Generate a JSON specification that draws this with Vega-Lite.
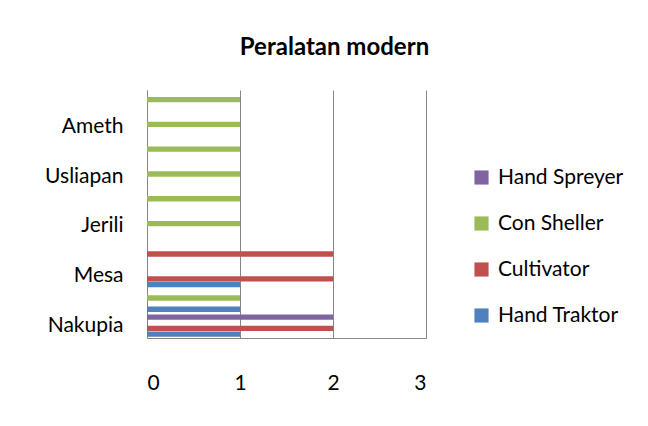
{
  "$schema": "https://vega.github.io/schema/vega-lite/v6.json",
  "autosize": "none",
  "width": 279,
  "height": 248,
  "padding": {"left": 147, "top": 90, "right": 222, "bottom": 88},
  "background": "white",
  "title": {
    "text": "Peralatan modern",
    "font": "Lato",
    "fontSize": 24,
    "fontWeight": "bold",
    "color": "#000000",
    "anchor": "middle",
    "frame": "group",
    "dx": 48,
    "offset": 30
  },
  "data": {
    "values": [
      {"desa": "Nakupia", "alat": "Hand Traktor", "jumlah": 1},
      {"desa": "Nakupia", "alat": "Cultivator", "jumlah": 2},
      {"desa": "Nakupia", "alat": "Hand Spreyer", "jumlah": 2},
      {"desa": "Desa 2", "alat": "Hand Traktor", "jumlah": 1},
      {"desa": "Desa 2", "alat": "Con Sheller", "jumlah": 1},
      {"desa": "Mesa", "alat": "Hand Traktor", "jumlah": 1},
      {"desa": "Mesa", "alat": "Cultivator", "jumlah": 2},
      {"desa": "Desa 4", "alat": "Cultivator", "jumlah": 2},
      {"desa": "Jerili", "alat": "Con Sheller", "jumlah": 1},
      {"desa": "Desa 6", "alat": "Con Sheller", "jumlah": 1},
      {"desa": "Usliapan", "alat": "Con Sheller", "jumlah": 1},
      {"desa": "Desa 8", "alat": "Con Sheller", "jumlah": 1},
      {"desa": "Ameth", "alat": "Con Sheller", "jumlah": 1},
      {"desa": "Desa 10", "alat": "Con Sheller", "jumlah": 1}
    ]
  },
  "mark": {"type": "bar"},
  "encoding": {
    "y": {
      "field": "desa",
      "type": "nominal",
      "scale": {
        "domain": ["Desa 10", "Ameth", "Desa 8", "Usliapan", "Desa 6", "Jerili", "Desa 4", "Mesa", "Desa 2", "Nakupia"],
        "paddingInner": 0.1,
        "paddingOuter": 0.05
      },
      "axis": {
        "title": null,
        "values": ["Nakupia", "Mesa", "Jerili", "Usliapan", "Ameth"],
        "ticks": false,
        "grid": false,
        "domainColor": "#868686",
        "domainWidth": 1,
        "labelFont": "Lato",
        "labelFontSize": 21,
        "labelColor": "#000000",
        "labelPadding": 24
      }
    },
    "yOffset": {
      "field": "alat",
      "type": "nominal",
      "scale": {"domain": ["Hand Spreyer", "Con Sheller", "Cultivator", "Hand Traktor"], "paddingInner": 0.05}
    },
    "x": {
      "field": "jumlah",
      "type": "quantitative",
      "scale": {"domain": [0, 3], "nice": false},
      "axis": {
        "title": null,
        "values": [0, 1, 2, 3],
        "format": "d",
        "ticks": false,
        "grid": true,
        "gridColor": "#868686",
        "gridWidth": 1,
        "domainColor": "#868686",
        "domainWidth": 1,
        "labelFont": "Lato",
        "labelFontSize": 21,
        "labelColor": "#000000",
        "labelPadding": 34
      }
    },
    "color": {
      "field": "alat",
      "type": "nominal",
      "scale": {
        "domain": ["Hand Spreyer", "Con Sheller", "Cultivator", "Hand Traktor"],
        "range": ["#8064A2", "#9BBB59", "#C0504D", "#4F81BD"]
      },
      "legend": {
        "title": null,
        "orient": "none",
        "legendX": 324,
        "legendY": 77,
        "symbolType": "square",
        "symbolSize": 200,
        "symbolStrokeWidth": 0,
        "labelFont": "Lato",
        "labelFontSize": 21,
        "labelColor": "#000000",
        "labelOffset": 6,
        "rowPadding": 24
      }
    }
  },
  "config": {
    "view": {"stroke": null}
  }
}
